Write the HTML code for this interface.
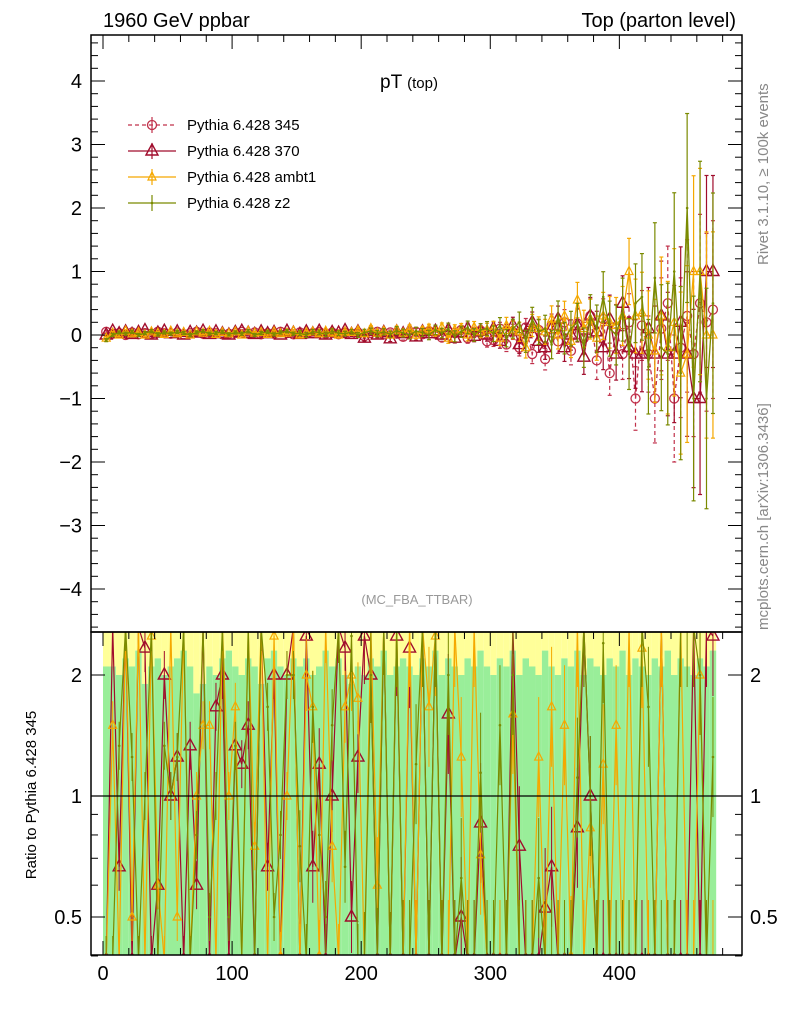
<!DOCTYPE html>
<html><head><meta charset="utf-8"><style>
body{margin:0;background:#fff;}
svg{font-family:"Liberation Sans","DejaVu Sans",sans-serif;}
</style></head><body>
<svg id="c" width="786" height="1024" xmlns="http://www.w3.org/2000/svg">
<text x="103" y="27" font-size="20">1960 GeV ppbar</text>
<text x="736" y="27" font-size="20" text-anchor="end">Top (parton level)</text>
<text x="380" y="88" font-size="19">pT <tspan font-size="15">(top)</tspan></text>
<text x="417" y="604" font-size="13" fill="#999" text-anchor="middle">(MC_FBA_TTBAR)</text>
<text transform="translate(768,265) rotate(-90)" font-size="15" fill="#888">Rivet 3.1.10, ≥ 100k events</text>
<text transform="translate(768,630) rotate(-90)" font-size="15" fill="#888">mcplots.cern.ch [arXiv:1306.3436]</text>
<text transform="translate(36,795) rotate(-90)" font-size="15" text-anchor="middle">Ratio to Pythia 6.428 345</text>
<g id="bands"></g><g id="marks"></g><g id="axes"></g><g id="legend"></g>
</svg>
<script>
const s345=[0.05,0.02,0.03,0.0,0.04,0.01,0.03,0.02,0.05,0.03,0.02,0.04,0.01,0.03,0.05,0.02,0.04,0.03,0.01,0.02,0.03,0.05,0.02,0.04,0.01,0.03,0.02,0.05,0.03,0.01,0.04,0.02,0.03,0.05,0.02,0.04,0.01,0.03,0.02,0.04,-0.02,0.03,0.05,0.01,0.04,0.02,-0.03,0.03,0.05,0.01,0.06,0.02,-0.04,0.05,0.03,0.08,-0.05,0.04,0.07,-0.1,-0.08,0.1,-0.15,0.05,-0.2,0.12,-0.3,0.08,-0.38,0.15,-0.1,0.2,-0.25,0.18,-0.05,0.3,-0.4,0.25,-0.6,0.1,-0.3,0.2,-1.0,0.15,-0.3,-1.0,0.1,0.5,-1.0,-0.2,0.3,-0.3,0.5,0.2,0.4];
const s370=[0.0,0.06,0.02,0.05,0.01,0.04,0.07,0.0,0.03,0.06,0.02,0.05,0.0,0.04,0.03,0.06,0.01,0.05,0.02,0.0,0.04,0.06,0.03,0.01,0.05,0.02,0.04,0.0,0.06,0.03,0.01,0.05,0.02,0.06,0.0,0.04,0.03,0.07,0.01,0.05,-0.05,0.06,0.0,0.04,-0.06,0.05,0.02,0.07,-0.03,0.05,0.02,0.06,0.0,0.08,-0.05,0.04,0.1,-0.02,0.06,0.0,0.1,-0.1,0.05,0.15,-0.15,0.02,0.2,-0.1,-0.2,0.1,0.25,-0.2,0.0,0.15,-0.35,0.3,0.05,-0.2,0.25,-0.3,0.5,-0.2,-0.3,-0.3,0.1,-0.3,0.3,-0.3,-0.3,0.2,-0.3,-1.0,-1.0,1.0,1.0];
const sAmbt=[-0.05,0.03,0.0,0.06,0.02,0.04,0.0,0.05,0.03,0.01,0.06,0.02,0.04,0.0,0.05,0.03,0.06,0.01,0.04,0.02,0.05,0.0,0.06,0.03,0.04,0.01,0.05,0.02,0.03,0.06,0.0,0.04,0.05,0.02,0.06,0.03,0.0,0.05,0.04,0.07,0.02,0.1,0.03,0.06,0.0,0.08,0.03,0.1,0.0,0.07,0.1,0.05,0.12,-0.05,0.08,0.1,0.0,0.12,0.05,0.08,0.1,-0.05,0.15,0.08,0.05,-0.2,0.15,0.1,0.05,0.25,0.0,0.3,-0.1,0.55,0.1,0.25,-0.05,0.3,0.2,0.15,0.3,1.0,0.3,0.35,0.0,-0.25,0.3,-0.2,0.2,-0.6,-0.3,1.0,1.0,0.0,0.0];
const sZ2=[-0.08,0.0,0.04,0.02,0.05,0.0,0.03,0.06,0.01,0.04,0.02,0.05,0.03,0.0,0.04,0.06,0.02,0.03,0.05,0.01,0.04,0.02,0.06,0.0,0.03,0.05,0.01,0.04,0.06,0.02,0.03,0.0,0.05,0.04,0.01,0.06,0.03,0.02,0.05,0.0,0.04,0.06,0.02,0.05,0.01,0.07,0.03,0.0,0.06,0.04,0.0,0.08,0.03,0.1,-0.02,0.05,0.12,0.0,0.08,0.1,0.02,0.15,-0.05,0.1,0.2,-0.1,0.25,0.05,0.1,-0.15,0.3,-0.05,0.1,0.2,-0.2,0.3,0.1,0.6,0.1,0.0,0.4,-0.3,0.5,0.6,-0.5,0.9,-0.2,-0.3,1.0,-0.6,2.0,-1.0,1.0,-1.0,0.5];
const errs=[0.02,0.02,0.02,0.02,0.02,0.02,0.02,0.02,0.02,0.02,0.02,0.02,0.02,0.02,0.02,0.02,0.02,0.02,0.02,0.02,0.02,0.02,0.02,0.02,0.02,0.02,0.02,0.02,0.02,0.02,0.03,0.03,0.03,0.03,0.03,0.03,0.03,0.03,0.03,0.03,0.04,0.04,0.04,0.04,0.04,0.05,0.05,0.05,0.05,0.05,0.06,0.06,0.06,0.07,0.07,0.07,0.08,0.08,0.08,0.09,0.1,0.1,0.11,0.12,0.13,0.14,0.15,0.16,0.17,0.18,0.19,0.2,0.22,0.24,0.25,0.27,0.3,0.32,0.35,0.38,0.4,0.45,0.5,0.55,0.6,0.7,0.8,0.9,1.0,1.1,1.2,1.3,1.4,1.4,1.4];
const bandHi=[2.1,2.1,2.0,2.2,2.1,2.3,1.9,2.1,2.2,2.0,2.1,2.2,2.3,2.1,1.8,1.9,2.1,2.0,2.2,2.3,2.1,2.0,2.2,2.1,1.9,2.2,2.3,2.1,2.0,2.2,2.1,2.2,2.0,2.1,2.3,2.1,2.2,2.0,1.9,2.1,2.0,2.2,2.1,2.3,2.0,2.1,2.2,2.1,2.0,2.2,2.1,2.3,2.0,2.2,2.1,2.0,2.2,2.1,2.3,2.1,2.0,2.2,2.1,2.3,2.0,2.2,2.1,2.0,2.3,2.1,2.0,2.2,2.1,2.3,2.0,2.2,2.1,2.0,2.2,2.1,2.3,2.0,2.2,2.1,2.0,2.2,2.1,2.3,2.0,2.2,2.1,2.0,2.2,2.1,2.3];
const xTicks=[0,100,200,300,400];
const yTicks=[-4,-3,-2,-1,0,1,2,3,4];
const rTicks=[0.5,1,2];
const names=["Pythia 6.428 345","Pythia 6.428 370","Pythia 6.428 ambt1","Pythia 6.428 z2"];
const NS="http://www.w3.org/2000/svg";
const L=91,R=742,T=35,M=632,B=955;
const X0=-9.3,X1=495;
const sx=v=>L+(v-X0)/(X1-X0)*(R-L);
const sy=v=>335-v*63.5;
const ry=v=>796-Math.log2(v)*121;
function mk(p,t,a){const e=document.createElementNS(NS,t);for(const k in a)e.setAttribute(k,a[k]);p.appendChild(e);return e;}
const bands=document.getElementById('bands'),marks=document.getElementById('marks'),axes=document.getElementById('axes'),leg=document.getElementById('legend');
const W=5;
for(let i=0;i<s345.length;i++){
 const x0=sx(i*W),x1=sx((i+1)*W);
 const y=mk(bands,'rect',{x:x0,y:M,width:x1-x0,height:ry(bandHi[i])-M,fill:'#ffff99'});
 
 
 const g=mk(bands,'rect',{x:x0,y:ry(bandHi[i]),width:x1-x0,height:B-ry(bandHi[i]),fill:'#99ee99'});
 
 
}
const cols=['#c0304a','#a00c2c','#f5a800','#7a8a00'];
const series=[s345,s370,sAmbt,sZ2];
const clipR=v=>{if(!(v>0))return B+5;return Math.max(M-5,Math.min(B+5,ry(v)));};
// clip path
const defs=mk(document.getElementById('c'),'defs',{});
const cp1=mk(defs,'clipPath',{id:'cm'});mk(cp1,'rect',{x:L,y:T,width:R-L,height:M-T});
const cp2=mk(defs,'clipPath',{id:'cr'});mk(cp2,'rect',{x:L,y:M,width:R-L,height:B-M});
const gm=mk(marks,'g',{'clip-path':'url(#cm)'}),gr=mk(marks,'g',{'clip-path':'url(#cr)'});
function marker(g,k,x,y){
 if(k==0)mk(g,'circle',{cx:x,cy:y,r:4.5,fill:'none',stroke:cols[0],'stroke-width':1.3});
 else if(k==1)mk(g,'path',{d:`M${x-6},${y+4}L${x},${y-7}L${x+6},${y+4}Z`,fill:'none',stroke:cols[1],'stroke-width':1.4});
 else if(k==2)mk(g,'path',{d:`M${x-4},${y+3}L${x},${y-5}L${x+4},${y+3}Z`,fill:'none',stroke:cols[2],'stroke-width':1.2});
 else mk(g,'circle',{cx:x,cy:y,r:1.3,fill:cols[3]});
}
series.forEach((s,k)=>{
 const dash=k==0?'4,3':'none';
 let pm='',pr='';
 const g=mk(gm,'g',{});
 
 
 const g2=mk(gr,'g',{});
 
 
 s.forEach((v,i)=>{
  const x=sx(i*W+W/2),y=sy(v),e=errs[i]*63.5*(1+k*0.08);
  pm+=(i?'L':'M')+x+','+y;
  mk(g,'line',{x1:x,y1:y-e,x2:x,y2:y+e,stroke:cols[k],'stroke-width':1.2,'stroke-dasharray':dash});
  mk(g,'line',{x1:x-2,y1:y-e,x2:x+2,y2:y-e,stroke:cols[k],'stroke-width':1.2});
  mk(g,'line',{x1:x-2,y1:y+e,x2:x+2,y2:y+e,stroke:cols[k],'stroke-width':1.2});
  if(k>0){const r=v/s345[i];const yy=clipR(r);pr+=(i?'L':'M')+x+','+yy;
   const ee=Math.min(60,errs[i]*1200);
   mk(g2,'line',{x1:x,y1:yy-ee,x2:x,y2:yy+ee,stroke:cols[k],'stroke-width':1});
   marker(g2,k,x,yy);}
 });
 mk(g,'path',{d:pm,fill:'none',stroke:cols[k],'stroke-width':1.3,'stroke-dasharray':dash});
 s.forEach((v,i)=>marker(g,k,sx(i*W+W/2),sy(v)));
 if(k>0)mk(g2,'path',{d:pr,fill:'none',stroke:cols[k],'stroke-width':1.2});
});
const one=mk(axes,'line',{x1:L,y1:ry(1),x2:R,y2:ry(1),stroke:'#000','stroke-width':1.2});


const f1=mk(axes,'rect',{x:L,y:T,width:R-L,height:M-T,fill:'none',stroke:'#000','stroke-width':1.5});


const f2=mk(axes,'rect',{x:L,y:M,width:R-L,height:B-M,fill:'none',stroke:'#000','stroke-width':1.5});


for(let v=-4.6;v<=4.7;v+=0.2){const y=sy(v),maj=Math.abs(v-Math.round(v))<0.01,l=maj?14:7;
 mk(axes,'line',{x1:L,y1:y,x2:L+l,y2:y,stroke:'#000'});mk(axes,'line',{x1:R,y1:y,x2:R-l,y2:y,stroke:'#000'});}
yTicks.forEach(v=>{const t=mk(axes,'text',{x:82,y:sy(v)+7,'font-size':20,'text-anchor':'end'});t.textContent=(v<0?'−':'')+Math.abs(v);
 
 });
for(let v=0;v<=490;v+=20){const x=sx(v),l=v%100==0?14:7;
 [T,M].forEach(y0=>mk(axes,'line',{x1:x,y1:y0,x2:x,y2:y0+l,stroke:'#000'}));
 mk(axes,'line',{x1:x,y1:B,x2:x,y2:B-l,stroke:'#000'});}
xTicks.forEach(v=>{const t=mk(axes,'text',{x:sx(v),y:980,'font-size':20,'text-anchor':'middle'});t.textContent=v;
 
 });
[0.4,0.5,0.6,0.7,0.8,0.9,1,2].forEach(v=>{const y=ry(v),l=(v==0.5||v==1||v==2)?14:7;
 mk(axes,'line',{x1:L,y1:y,x2:L+l,y2:y,stroke:'#000'});mk(axes,'line',{x1:R,y1:y,x2:R-l,y2:y,stroke:'#000'});});
rTicks.forEach(v=>{[[82,'end'],[750,'start']].forEach(([x,a])=>{const t=mk(axes,'text',{x:x,y:ry(v)+7,'font-size':20,'text-anchor':a});t.textContent=v;
 
 });});
names.forEach((n,k)=>{const y=125+k*26,g=mk(leg,'g',{});
 
 
 mk(g,'line',{x1:128,y1:y,x2:176,y2:y,stroke:cols[k],'stroke-width':1.3,'stroke-dasharray':k==0?'4,3':'none'});
 mk(g,'line',{x1:152,y1:y-8,x2:152,y2:y+8,stroke:cols[k],'stroke-width':1.2});
 marker(g,k,152,y);
 const t=mk(g,'text',{x:187,y:y+5,'font-size':15});t.textContent=n;});
</script>
</body></html>
